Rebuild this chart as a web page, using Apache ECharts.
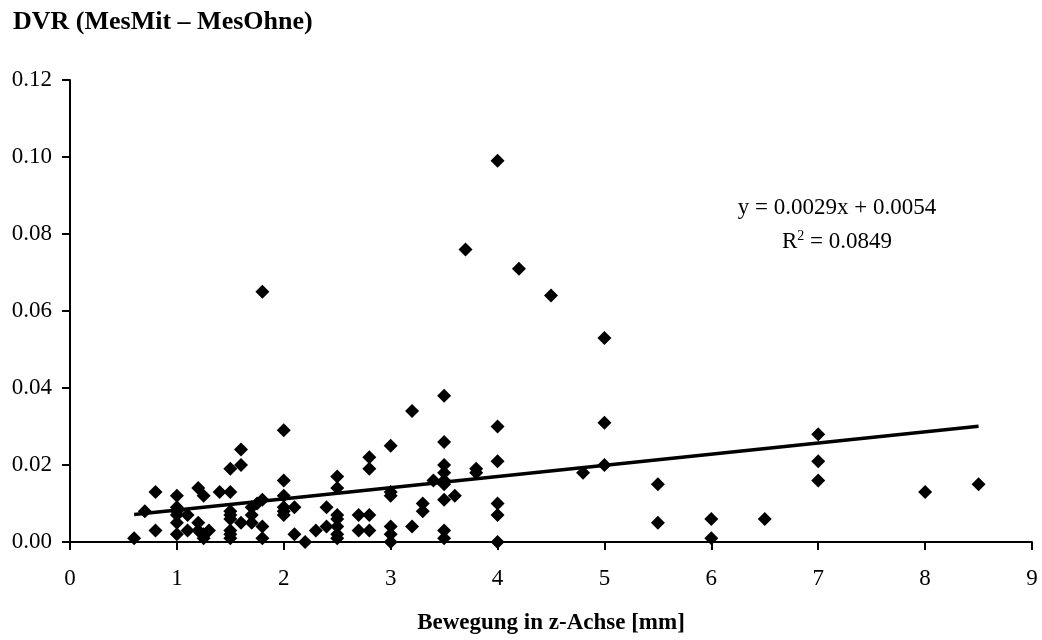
<!DOCTYPE html>
<html>
<head>
<meta charset="utf-8">
<script src="https://cdn.jsdelivr.net/npm/echarts@6/dist/echarts.min.js"></script>
<style>html,body{margin:0;padding:0;background:#fff;}#c{width:1042px;height:640px;}</style>
</head>
<body>
<div id="c"></div>
<script>
// Data
const xVals = [
  0.6, 0.7, 0.8, 0.8,
  1.0, 1.0, 1.0, 1.0, 1.0, 1.0,
  1.1, 1.1,
  1.2, 1.2, 1.2,
  1.25, 1.25, 1.25,
  1.3, 1.4,
  1.5, 1.5, 1.5, 1.5, 1.5, 1.5, 1.5, 1.5,
  1.6, 1.6, 1.6,
  1.7, 1.7, 1.7, 1.75,
  1.8, 1.8, 1.8, 1.8,
  2.0, 2.0, 2.0, 2.0, 2.0, 2.0,
  2.1, 2.1, 2.2, 2.3, 2.4, 2.4,
  2.5, 2.5, 2.5, 2.5, 2.5, 2.5, 2.5,
  2.7, 2.7,
  2.8, 2.8, 2.8, 2.8,
  3.0, 3.0, 3.0, 3.0, 3.0, 3.0,
  3.2, 3.2, 3.3, 3.3, 3.4,
  3.5, 3.5, 3.5, 3.5, 3.5, 3.5, 3.5, 3.5, 3.5,
  3.6, 3.7, 3.8, 3.8,
  4.0, 4.0, 4.0, 4.0, 4.0, 4.0,
  4.2, 4.5, 4.8,
  5.0, 5.0, 5.0,
  5.5, 5.5, 6.0, 6.0, 6.5,
  7.0, 7.0, 7.0, 8.0, 8.5
];
const yVals = [
  0.001, 0.008, 0.013, 0.003,
  0.012, 0.009, 0.008, 0.007, 0.005, 0.002,
  0.007, 0.003,
  0.014, 0.005, 0.003,
  0.012, 0.002, 0.001,
  0.003, 0.013,
  0.019, 0.013, 0.008, 0.007, 0.006, 0.003, 0.002, 0.001,
  0.024, 0.020, 0.005,
  0.009, 0.007, 0.005, 0.010,
  0.065, 0.011, 0.004, 0.001,
  0.029, 0.016, 0.012, 0.009, 0.008, 0.007,
  0.009, 0.002, 0.000, 0.003, 0.009, 0.004,
  0.017, 0.014, 0.007, 0.006, 0.004, 0.002, 0.001,
  0.007, 0.003,
  0.022, 0.019, 0.007, 0.003,
  0.025, 0.013, 0.012, 0.004, 0.002, 0.000,
  0.034, 0.004, 0.010, 0.008, 0.016,
  0.038, 0.026, 0.020, 0.018, 0.016, 0.015, 0.011, 0.003, 0.001,
  0.012, 0.076, 0.019, 0.018,
  0.099, 0.030, 0.021, 0.010, 0.007, 0.000,
  0.071, 0.064, 0.018,
  0.053, 0.031, 0.020,
  0.015, 0.005, 0.006, 0.001, 0.006,
  0.028, 0.021, 0.016, 0.013, 0.015
];
const trendX = [0.6, 8.5];
const trendY = [0.00714, 0.03005];
const xTicks = [0, 1, 2, 3, 4, 5, 6, 7, 8, 9];
const yTicks = ['0.00', '0.02', '0.04', '0.06', '0.08', '0.10', '0.12'];

const FONT = '"Liberation Serif", "DejaVu Serif", serif';
const chart = echarts.init(document.getElementById('c'), null, {renderer: 'canvas'});
const scatterData = xVals.map((x, i) => [x, yVals[i]]);
const trendData = trendX.map((x, i) => [x, trendY[i]]);

chart.setOption({
  animation: false,
  backgroundColor: '#ffffff',
  title: {
    text: 'DVR (MesMit – MesOhne)',
    left: 8, top: 4,
    textStyle: {fontFamily: FONT, fontWeight: 'bold', fontSize: 26, color: '#000'}
  },
  grid: {left: 70, right: 10, top: 80, bottom: 91, containLabel: false},
  xAxis: {
    type: 'value', min: 0, max: 9, interval: 1,
    name: 'Bewegung in z-Achse [mm]', nameLocation: 'middle', nameGap: 70,
    nameTextStyle: {fontFamily: FONT, fontWeight: 'bold', fontSize: 23, color: '#000'},
    axisLine: {show: true, onZero: false, lineStyle: {color: '#000', width: 2}},
    axisTick: {show: true, inside: false, length: 8, lineStyle: {color: '#000', width: 2}},
    axisLabel: {fontFamily: FONT, fontSize: 23, color: '#000', margin: 25,
      formatter: v => String(xTicks[Math.round(v)])},
    splitLine: {show: false}
  },
  yAxis: {
    type: 'value', min: 0, max: 0.12, interval: 0.02,
    axisLine: {show: true, lineStyle: {color: '#000', width: 2}},
    axisTick: {show: true, inside: false, length: 8, lineStyle: {color: '#000', width: 2}},
    axisLabel: {fontFamily: FONT, fontSize: 23, color: '#000', margin: 18,
      formatter: v => yTicks[Math.round(v / 0.02)]},
    splitLine: {show: false}
  },
  graphic: [{
    type: 'text', x: 837, y: 208,
    style: {
      text: 'y = 0.0029x + 0.0054',
      fontFamily: FONT, fontSize: 23, fill: '#000', align: 'center', verticalAlign: 'middle'
    }
  }, {
    type: 'text', x: 837, y: 242,
    style: {
      text: '{r|R}{s|2}{r| = 0.0849}',
      fontFamily: FONT, fontSize: 23, fill: '#000', align: 'center', verticalAlign: 'middle',
      rich: {
        r: {fontFamily: FONT, fontSize: 23, fill: '#000', height: 28},
        s: {fontFamily: FONT, fontSize: 14, fill: '#000', verticalAlign: 'top', height: 28, padding: [0, 0, 12, 0]}
      }
    }
  }],
  series: [
    {
      type: 'scatter', data: scatterData, symbol: 'diamond', symbolSize: 14,
      itemStyle: {color: '#000', opacity: 1}, z: 3
    },
    {
      type: 'line', data: trendData, symbol: 'none', showSymbol: false,
      lineStyle: {color: '#000', width: 3.5}, z: 4
    }
  ]
});
</script>
</body>
</html>
